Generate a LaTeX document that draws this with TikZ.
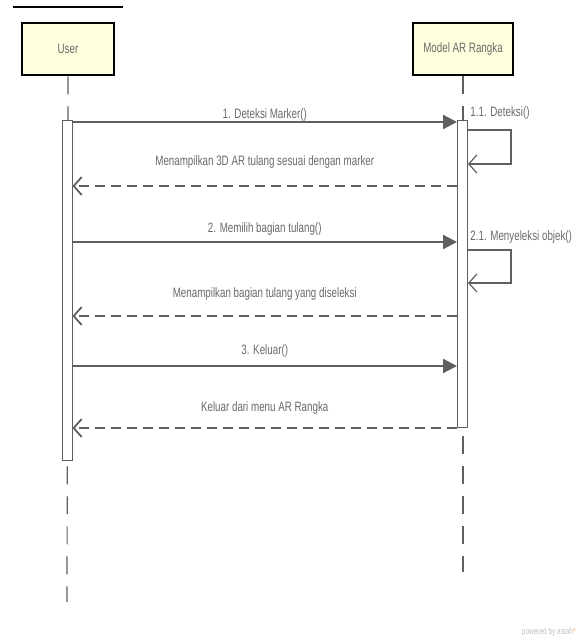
\documentclass[tikz,border=0pt]{standalone}
\usepackage{fontspec}
\setmainfont{Liberation Sans}[FakeStretch=0.72]
\usetikzlibrary{arrows.meta, positioning, calc}
\definecolor{cBox}{RGB}{255,255,222}
\definecolor{cLine}{RGB}{95,95,95}
\definecolor{cText}{RGB}{105,105,105}
\definecolor{cStar}{RGB}{240,170,90}
\tikzset{
	lifebox/.style ={rectangle, draw=black, line width=1.4pt, fill=cBox, minimum height=26pt, text=cText, font=\fontsize{6.8}{7}\selectfont},
	actbar/.style  ={rectangle, draw=cLine, fill=white, minimum width=5pt, inner sep=0pt, line width=0.5pt},
	lifeline/.style={draw=cLine, dash pattern=on 9pt off 6pt, line width=0.6pt},
	syncmsg/.style ={-{Triangle[length=7pt, width=7pt]}, draw=cLine, line width=1.1pt},
	retmsg/.style  ={-{Straight Barb[length=4pt, width=9pt]}, draw=cLine, dash pattern=on 5pt off 3pt, line width=0.9pt},
	selfmsg/.style ={-{Straight Barb[length=4pt, width=9pt]}, draw=cLine, line width=0.6pt},
	msglbl/.style  ={text=cText, font=\fontsize{6.8}{7}\selectfont, inner sep=1pt},
}
\begin{document}
\begin{tikzpicture}[x=0.5pt, y=-0.5pt]
	\useasboundingbox (0,0) rectangle (581,641);
	\draw[line width=0.8pt] (13,7) -- (123,7);
	% lifeline heads
	\node[lifebox, minimum width=46pt] (usr) at (68,49) {User};
	\node[lifebox, minimum width=50pt] (mdl) at (463,49) {Model AR Rangka};
	\coordinate (usrend) at (67,602);
	\coordinate (mdlend) at (463,572);
	\draw[lifeline] (usr.south) -- (usrend);
	\draw[lifeline] (mdl.south) -- (mdlend);
	% activations
	\node[actbar, anchor=north, minimum height=170pt] (ubar) at (67,120) {};
	\node[actbar, anchor=north, minimum height=153.5pt] (mbar) at (462.5,120) {};
	% message rows
	\foreach \n/\y in {r1/122, s1a/130, s1b/164, b1/186, r2/242, s2a/250, s2b/283, b2/316, r3/366, b3/428}
		\coordinate (\n) at (0,\y);
	\foreach \r/\d/\t in {r1/-1/1. Deteksi Marker(), r2/2/2. Memilih bagian tulang(), r3/3/3. Keluar()}
		\draw[syncmsg] (ubar.east |- \r) -- node[msglbl, above=\d pt] {\t} (mbar.west |- \r);
	\foreach \r/\d/\t in {b1/7.5/Menampilkan 3D AR tulang sesuai dengan marker, b2/6.5/Menampilkan bagian tulang yang diseleksi, b3/5.5/Keluar dari menu AR Rangka}
		\draw[retmsg] (mbar.west |- \r) -- node[msglbl, above=\d pt] {\t} (ubar.east |- \r);
	% self calls
	\draw[selfmsg] (mbar.east |- s1a) -- ++(43,0) |- (mbar.east |- s1b);
	\draw[selfmsg] (mbar.east |- s2a) -- ++(43,0) |- (mbar.east |- s2b);
	\node[msglbl, anchor=west] (lbl11) at (468,113) {1.1. Deteksi()};
	\node[msglbl, anchor=west] (lbl21) at (468,237) {2.1. Menyeleksi objek()};
	\node[msglbl, text=black!25, font=\fontsize{4.5}{5}\selectfont, anchor=east] (pwr) at (578,632) {powered by astah\textcolor{cStar}{*}};
\end{tikzpicture}
\end{document}
